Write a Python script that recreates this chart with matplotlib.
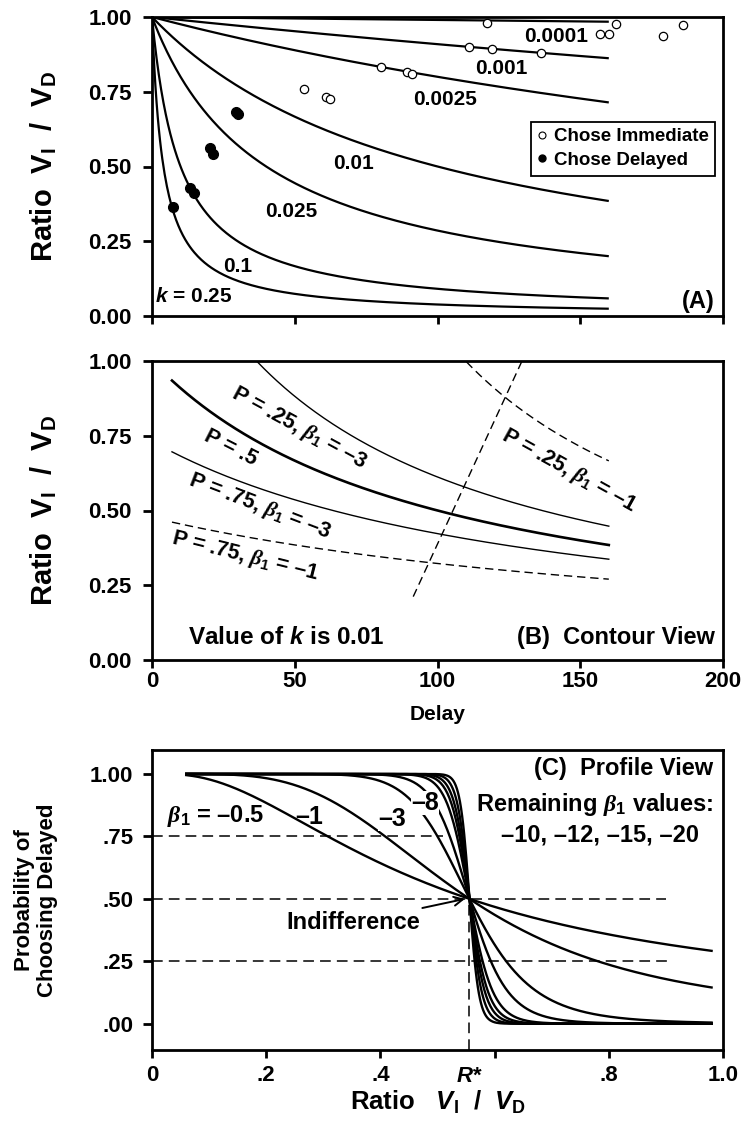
import numpy as np
import matplotlib
matplotlib.use("Agg")
import matplotlib.pyplot as plt
from matplotlib.lines import Line2D

plt.rcParams['font.family'] = ['Liberation Sans', 'DejaVu Sans']
plt.rcParams['font.weight'] = 'bold'
plt.rcParams['mathtext.fontset'] = 'custom'
plt.rcParams['mathtext.rm'] = 'Liberation Sans:bold'
plt.rcParams['mathtext.it'] = 'Liberation Sans:bold:italic'
plt.rcParams['mathtext.bf'] = 'Liberation Sans:bold'
plt.rcParams['mathtext.sf'] = 'Liberation Serif:italic'

# ---------------- Panel A data ----------------
k_values = [0.0001, 0.001, 0.0025, 0.01, 0.025, 0.1, 0.25]
k_labels = ["0.0001", "0.001", "0.0025", "0.01", "0.025", "0.1", "$k$ = 0.25"]
k_label_delay = [141.7, 122.5, 102.6, 70.5, 48.9, 29.9, 14.5]
k_label_ratio = [0.934, 0.828, 0.725, 0.51, 0.349, 0.165, 0.065]
curve_delay_max = 160

immediate_delay = [53.2, 60.9, 62.3, 80.2, 89.4, 91.2, 111.1, 117.2, 119.2,
                   136.3, 156.9, 160.2, 162.4, 179.1, 186.1]
immediate_ratio = [0.758, 0.733, 0.727, 0.834, 0.817, 0.811, 0.898, 0.981, 0.893,
                   0.881, 0.942, 0.942, 0.976, 0.936, 0.973]
delayed_delay = [7.4, 13.4, 14.6, 20.3, 21.5, 29.5, 30.2]
delayed_ratio = [0.363, 0.427, 0.413, 0.561, 0.541, 0.683, 0.676]

# ---------------- Panel B data ----------------
k_contour = 0.01
contour_P = [0.5, 0.25, 0.75, 0.25, 0.75]
contour_beta = [-3, -3, -3, -1, -1]
contour_dashed = [False, False, False, True, True]
contour_thick = [True, False, False, False, False]
contour_delay_min = 7
b_labels = ["P = .25, $\\mathsf{\\beta}_{\\mathregular{1}}$ = \u20133",
            "P = .5",
            "P = .75, $\\mathsf{\\beta}_{\\mathregular{1}}$ = \u20133",
            "P = .75, $\\mathsf{\\beta}_{\\mathregular{1}}$ = \u20131",
            "P = .25, $\\mathsf{\\beta}_{\\mathregular{1}}$ = \u20131"]
b_label_delay = [51.5, 27.7, 37.8, 32.6, 145.8]
b_label_ratio = [0.776, 0.709, 0.512, 0.345, 0.632]
b_label_angle = [-28.5, -27, -21, -14, -29]
profile_line_delay = [91.5, 129.5]
profile_line_ratio = [0.212, 0.998]

# ---------------- Panel C data ----------------
r_star = 0.556
beta_values = [-0.5, -1, -3, -5, -8, -10, -12, -15, -20]
ratio_min, ratio_max = 0.06, 0.98
beta_scale = 2.85
ratio_power = -0.3
hline_P = [0.75, 0.5, 0.25]
hline_end = [0.51, 0.90, 0.905]

fig = plt.figure(figsize=(7.43, 11.30), dpi=100)
L, W = 152 / 743, 571 / 743
axA = fig.add_axes([L, 1 - 316 / 1130, W, 299 / 1130])
axB = fig.add_axes([L, 1 - 660 / 1130, W, 299 / 1130])
axC = fig.add_axes([L, 1 - 1050 / 1130, W, 300 / 1130])

SP = 2.0
for ax in (axA, axB, axC):
    for s in ax.spines.values():
        s.set_linewidth(SP)

ratio_label = "Ratio  V$_{\\mathregular{I}}$  /  V$_{\\mathregular{D}}$"

# ---- Panel A ----
D = np.linspace(0, curve_delay_max, 400)
for k in k_values:
    axA.plot(D, 1 / (1 + k * D), color='black', lw=1.6, solid_capstyle='butt')
for lab, x, y in zip(k_labels, k_label_delay, k_label_ratio):
    axA.text(x, y, lab, ha='center', va='center', fontsize=15, fontweight='bold')
axA.plot(immediate_delay, immediate_ratio, 'o', ms=6, mfc='white', mec='black', mew=0.9,
         ls='none', zorder=5)
axA.plot(delayed_delay, delayed_ratio, 'o', ms=7, mfc='black', mec='black', ls='none', zorder=5)
handles = [Line2D([], [], marker='o', ms=5, mfc='white', mec='black', mew=0.8, ls='none'),
           Line2D([], [], marker='o', ms=5, mfc='black', mec='black', ls='none')]
leg = axA.legend(handles, ["Chose Immediate", "Chose Delayed"], loc='upper right',
                 bbox_to_anchor=(0.986, 0.650), frameon=True, fancybox=False, framealpha=1,
                 edgecolor='black', borderpad=0.35, handlelength=0.5, handletextpad=0.35,
                 labelspacing=0.35, borderaxespad=0, prop={'size': 13.5, 'weight': 'bold'})
leg.get_frame().set_linewidth(1.3)
axA.text(0.986, 0.05, "(A)", transform=axA.transAxes, ha='right', va='center',
         fontsize=17, fontweight='bold')
axA.set_xlim(0, 200)
axA.set_ylim(0, 1)
axA.set_xticks([0, 50, 100, 150, 200])
axA.set_yticks([0, 0.25, 0.5, 0.75, 1.0])
axA.set_yticklabels(["0.00", "0.25", "0.50", "0.75", "1.00"])
axA.tick_params(axis='x', direction='out', length=6, width=SP, labelbottom=False)
axA.tick_params(axis='y', direction='out', length=6.5, width=SP, pad=8, labelsize=16)
axA.set_ylabel(ratio_label, fontsize=21, fontweight='bold')
axA.yaxis.set_label_coords(-0.163, 0.5)

# ---- Panel B ----
Db = np.linspace(contour_delay_min, curve_delay_max, 400)
for P, b, dashed, thick in zip(contour_P, contour_beta, contour_dashed, contour_thick):
    inv = 1 + k_contour * Db - np.log(P / (1 - P)) / b
    R = 1 / inv
    R = np.where(inv >= 1, R, np.nan)
    axB.plot(Db, R, color='black', lw=1.9 if thick else 1.0,
             ls=(0, (6, 3.5)) if dashed else '-')
axB.plot(profile_line_delay, profile_line_ratio, color='black', lw=1.0, ls=(0, (6, 3.5)))
for lab, x, y, a in zip(b_labels, b_label_delay, b_label_ratio, b_label_angle):
    axB.text(x, y, lab, ha='center', va='center', rotation=a, rotation_mode='anchor',
             fontsize=15.5, fontweight='bold')
axB.text(12.7, 0.074, "Value of $k$ is 0.01", ha='left', va='center', fontsize=17.5,
         fontweight='bold')
axB.text(0.986, 0.074, "(B)  Contour View", transform=axB.transAxes, ha='right',
         va='center', fontsize=17, fontweight='bold')
axB.set_xlim(0, 200)
axB.set_ylim(0, 1)
axB.set_xticks([0, 50, 100, 150, 200])
axB.set_yticks([0, 0.25, 0.5, 0.75, 1.0])
axB.set_yticklabels(["0.00", "0.25", "0.50", "0.75", "1.00"])
axB.tick_params(axis='x', direction='out', length=6, width=SP, pad=2, labelsize=16)
axB.tick_params(axis='y', direction='out', length=6.5, width=SP, pad=8, labelsize=16)
axB.set_ylabel(ratio_label, fontsize=21, fontweight='bold')
axB.yaxis.set_label_coords(-0.163, 0.5)
axB.set_xlabel("Delay", fontsize=15, fontweight='bold')
axB.xaxis.set_label_coords(0.5, -0.15)

# ---- Panel C ----
Rc = np.sort(np.append(np.linspace(ratio_min, ratio_max, 500), r_star))
f_ratio = (Rc ** ratio_power - r_star ** ratio_power) / ratio_power
for b in beta_values:
    Pc = 1 / (1 + np.exp(-beta_scale * b * f_ratio))
    axC.plot(Rc, Pc, color='black', lw=1.7)
for p, xe in zip(hline_P, hline_end):
    axC.plot([0, xe], [p, p], color='black', lw=1.1, ls=(0, (7, 4)))
axC.plot([r_star, r_star], [-0.105, 0.5], color='black', lw=1.1, ls=(0, (7, 4)))
beta_sym = "$\\mathsf{\\beta}_{\\mathregular{1}}$"
axC.text(0.026, 0.83, beta_sym + " = \u20130.5", ha='left', va='center', fontsize=17,
         fontweight='bold')
axC.text(0.275, 0.826, "\u20131", ha='center', va='center', fontsize=18, fontweight='bold')
axC.text(0.42, 0.82, "\u20133", ha='center', va='center', fontsize=18, fontweight='bold',
         bbox=dict(fc='white', ec='none', pad=0))
axC.text(0.478, 0.883, "\u20138", ha='center', va='center', fontsize=18, fontweight='bold',
         bbox=dict(fc='white', ec='none', pad=0))
axC.text(0.983, 1.02, "(C)  Profile View", ha='right', va='center', fontsize=17,
         fontweight='bold')
axC.text(0.983, 0.876, "Remaining " + beta_sym + " values:", ha='right', va='center',
         fontsize=17, fontweight='bold')
axC.text(0.785, 0.756, "\u201310, \u201312, \u201315, \u201320", ha='center', va='center',
         fontsize=17, fontweight='bold')
axC.annotate("Indifference", xy=(0.548, 0.5), xytext=(0.352, 0.404), ha='center',
             va='center', fontsize=17, fontweight='bold',
             arrowprops=dict(arrowstyle='->', lw=1.4, color='black', shrinkA=2, shrinkB=0,
                             mutation_scale=16))
axC.set_xlim(0, 1.0)
axC.set_ylim(-0.105, 1.096)
axC.set_xticks([0, 0.2, 0.4, 0.6, 0.8, 1.0])
axC.set_xticklabels(["0", ".2", ".4", "", ".8", "1.0"])
axC.set_yticks([0, 0.25, 0.5, 0.75, 1.0])
axC.set_yticklabels([".00", ".25", ".50", ".75", "1.00"])
axC.tick_params(axis='x', direction='out', length=6, width=SP, pad=5, labelsize=16)
axC.tick_params(axis='y', direction='out', length=6.5, width=SP, pad=7, labelsize=16)
axC.text(r_star, -0.088, "$R$*", transform=axC.get_xaxis_transform(), ha='center',
         va='center', fontsize=16)
axC.set_ylabel("Probability of\nChoosing Delayed", fontsize=16, fontweight='bold',
               linespacing=1.1)
axC.yaxis.set_label_coords(-0.165, 0.5)
axC.set_xlabel("Ratio   $V_{\\mathregular{I}}$  /  $V_{\\mathregular{D}}$", fontsize=18.5,
               fontweight='bold')
axC.xaxis.set_label_coords(0.5, -0.128)

fig.savefig("out.png", dpi=100)
